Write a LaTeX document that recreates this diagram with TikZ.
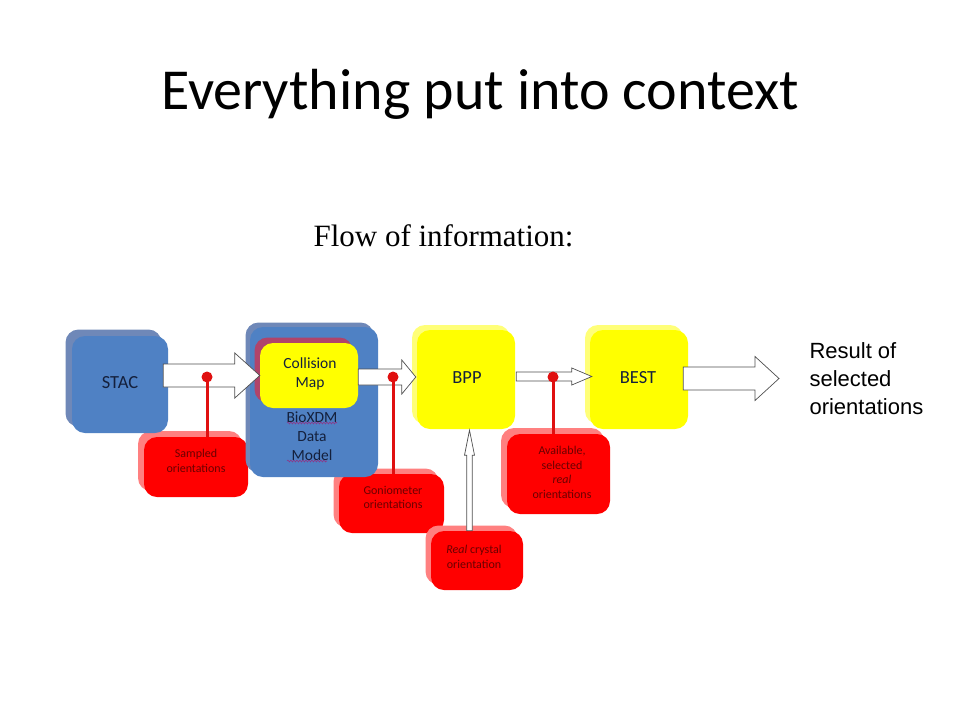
\documentclass[tikz,border=0pt]{standalone}
\usepackage{fontspec}
\setmainfont{Carlito}
\newfontfamily\timesf{Liberation Serif}
\newfontfamily\arialf{Liberation Sans}
\usetikzlibrary{shadows,decorations.pathmorphing,calc}
\definecolor{bluefront}{HTML}{4F81C4}
\definecolor{blueback}{HTML}{6F88B8}
\definecolor{yfront}{HTML}{FFFF00}
\definecolor{yback}{HTML}{FFFF78}
\definecolor{rfront}{HTML}{FF0000}
\definecolor{rback}{HTML}{FF8080}
\definecolor{maroonsh}{HTML}{B0446A}
\definecolor{navytxt}{HTML}{14203C}
\definecolor{redtxt}{HTML}{6A0000}
\definecolor{redln}{HTML}{E01010}
\definecolor{arrowln}{HTML}{505050}
\tikzset{
  boxbase/.style={rounded corners=13pt,inner sep=0pt,draw=none},
  bluebox/.style={boxbase,fill=bluefront},
  yellowbox/.style={boxbase,fill=yfront},
  redbox/.style={boxbase,fill=rfront},
  sh/.style 2 args={copy shadow={draw=none,fill=#1,opacity=1,shadow xshift=-#2pt,shadow yshift=#2pt}},
  bigtxt/.style={text=navytxt,font=\fontsize{18.5}{20}\selectfont},
  midtxt/.style={text=navytxt,align=center,font=\fontsize{15.5}{19}\selectfont},
  smalltxt/.style={text=redtxt,align=center,font=\fontsize{12}{14.5}\selectfont},
  blockarr/.style={draw=arrowln,fill=white,line width=0.7pt,line join=miter},
  reddot/.style={circle,fill=redln,minimum size=11pt,inner sep=0pt},
  redline/.style={draw=redln,line width=3pt},
  spell/.style={draw=maroonsh!80!blue,line width=0.6pt,decorate,decoration={snake,amplitude=0.9pt,segment length=3pt}}
}
\newcommand{\blockarrow}[5]{%
  \draw[blockarr] let \p1=(#1), \p2=(#2) in
    (\x1,\y2+#3) -- (\x2-#5,\y2+#3) -- (\x2-#5,\y2+#4) -- (\x2,\y2)
    -- (\x2-#5,\y2-#4) -- (\x2-#5,\y2-#3) -- (\x1,\y2-#3) -- cycle;}
\begin{document}
\begin{tikzpicture}[x=1pt,y=-1pt]
\useasboundingbox (0,0) rectangle (960,720);
\fill[white] (0,0) rectangle (960,720);
% titles
\node[anchor=base,font=\fontsize{58}{60}\selectfont] (title) at (480,109) {Everything put into context};
\node[anchor=base west,font=\timesf\fontsize{31}{34}\selectfont] (flow) at (310,246) {Flow of information:};
% red boxes
\node[redbox,sh={rback}{6},minimum width=104pt,minimum height=60pt] (sampled) at (196,467) {};
\node[redbox,sh={rback}{5.5},minimum width=105pt,minimum height=59pt] (gonio) at (391.5,503.5) {};
\node[redbox,sh={rback}{6},minimum width=103pt,minimum height=80pt] (avail) at (558.5,474) {};
\node[redbox,sh={rback}{5.5},minimum width=92pt,minimum height=59pt] (realc) at (477,560.5) {};
% blue boxes
\node[bluebox,sh={blueback}{6.5},minimum width=96pt,minimum height=97pt] (stac) at (120,384.5) {};
\node[bluebox,sh={blueback}{4.5},minimum width=128pt,minimum height=150pt] (bioxdm) at (314,402) {};
% yellow boxes
\node[yellowbox,sh={yback}{5},minimum width=98pt,minimum height=99pt] (bpp) at (466,379.5) {};
\node[yellowbox,sh={yback}{5},minimum width=98pt,minimum height=99pt] (best) at (639,379.5) {};
\node[yellowbox,sh={maroonsh}{5.5},minimum width=98pt,minimum height=65pt] (cm) at (309,375.5) {};
% texts in boxes
\node[bigtxt] (stact) at (120,383) {STAC};
\node[bigtxt] (bppt) at (467,378) {BPP};
\node[bigtxt] (bestt) at (638,378) {BEST};
\node[midtxt] (cmt) at (310,373.5) {Collision\\Map};
\node[midtxt] (bxt) at (312,436) {BioXDM\\Data\\Model};
\node[smalltxt] (sampledt) at (196,461) {Sampled\\orientations};
\node[smalltxt,font=\fontsize{12}{13.5}\selectfont] (goniot) at (393,497.5) {Goniometer\\orientations};
\node[smalltxt] (availt) at (562,472.5) {Available,\\selected\\\textit{real}\\orientations};
\node[smalltxt,font=\fontsize{12}{15}\selectfont] (realct) at (474,556.5) {\textit{Real} crystal\\orientation};
% spell-check underlines
\draw[spell] (287,423) -- (337,423);
\draw[spell] (287,461) -- (327,461);
% block arrows
\coordinate (outtip) at (779,378.5);
\blockarrow{[xshift=-5pt]stac.east}{cm.west}{11.5pt}{22.5pt}{25pt}
\blockarrow{cm.east}{[shift={(-1pt,2.5pt)}]bpp.west}{8pt}{17pt}{14pt}
\blockarrow{[xshift=1pt]bpp.east}{[shift={(2pt,3pt)}]best.west}{4.5pt}{8.5pt}{20pt}
\blockarrow{[xshift=-5pt]best.east}{outtip}{11.5pt}{22pt}{24pt}
% vertical arrow from real crystal to BPP
\draw[blockarr] let \p1=([xshift=-7.5pt]realc.north), \p2=([xshift=3.5pt,yshift=-1pt]bpp.south) in
  (\x1-2.8pt,\y1) -- (\x1-2.8pt,\y2-25pt) -- (\x1-5pt,\y2-25pt) -- (\x1,\y2)
  -- (\x1+5pt,\y2-25pt) -- (\x1+2.8pt,\y2-25pt) -- (\x1+2.8pt,\y1) -- cycle;
% red dots and lines
\node[reddot] (d1) at (207,377) {};
\node[reddot] (d2) at (393,377) {};
\node[reddot] (d3) at (553,377) {};
\draw[redline] (d1.center) -- (d1 |- sampled.north);
\draw[redline] (d2.center) -- (d2 |- gonio.north);
\draw[redline] (d3.center) -- (d3 |- avail.north);
% result text
\node[anchor=base west,align=left,font=\arialf\fontsize{22}{28}\selectfont] (result) at (806,414) {Result of\\selected\\orientations};
\end{tikzpicture}
\end{document}
